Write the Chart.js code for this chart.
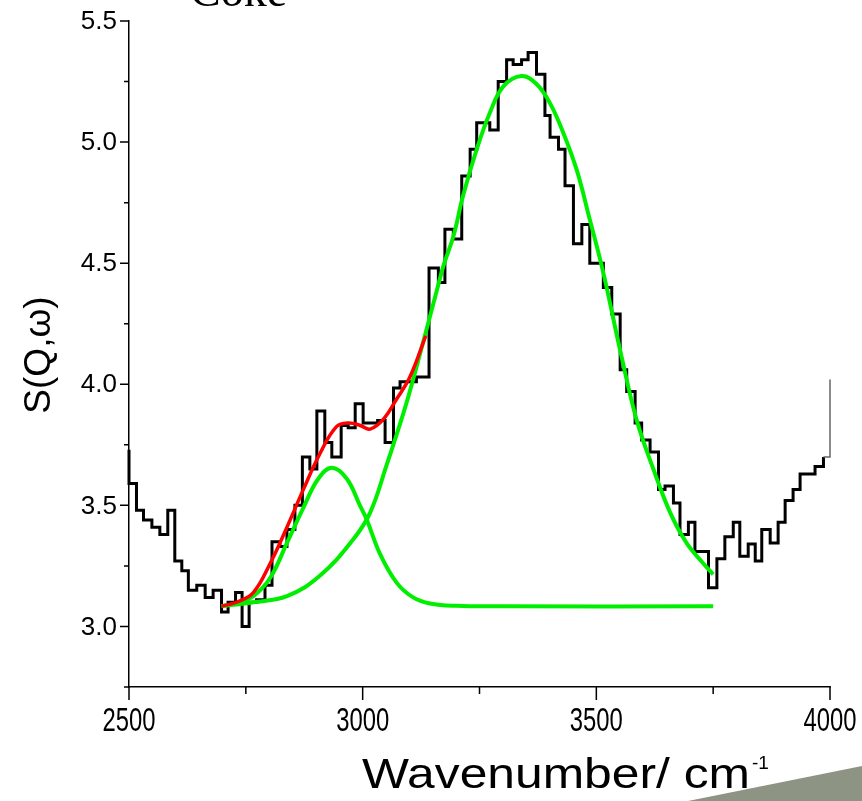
<!DOCTYPE html>
<html>
<head>
<meta charset="utf-8">
<script src="https://cdn.jsdelivr.net/npm/chart.js@4.4.1/dist/chart.umd.min.js"></script>
<style>
  html, body { margin: 0; padding: 0; background: #fff; }
  #wrap { position: relative; width: 862px; height: 801px; }
</style>
</head>
<body>
<div id="wrap"><canvas id="chart"></canvas></div>
<script>
// Measured spectrum, drawn as a histogram: each value holds until the next wavenumber.
const stepWavenumber = [
  2500, 2500, 2516, 2531, 2549, 2566, 2583, 2598, 2613, 2627,
  2645, 2663, 2680, 2698, 2712, 2728, 2742, 2757, 2773, 2791,
  2806, 2823, 2838, 2855, 2871, 2887, 2902, 2919, 2934, 2954,
  2969, 2984, 3001, 3016, 3032, 3048, 3066, 3080, 3098, 3115,
  3142, 3162, 3176, 3194, 3212, 3230, 3244, 3258, 3272, 3290,
  3308, 3322, 3340, 3354, 3372, 3390, 3401, 3419, 3433, 3451,
  3469, 3486, 3501, 3515, 3533, 3551, 3565, 3583, 3597, 3615,
  3633, 3647, 3665, 3679, 3697, 3711, 3725, 3740, 3758, 3775,
  3793, 3807, 3825, 3840, 3854, 3872, 3889, 3904, 3921, 3936,
  3954, 3968, 3986, 4000,
];
const stepIntensity = [
  3.73, 3.59, 3.48, 3.44, 3.41, 3.38, 3.48, 3.27, 3.23, 3.15,
  3.17, 3.12, 3.15, 3.06, 3.10, 3.14, 3.00, 3.10, 3.11, 3.17,
  3.35, 3.33, 3.40, 3.50, 3.70, 3.65, 3.89, 3.76, 3.70, 3.83,
  3.82, 3.92, 3.84, 3.84, 3.85, 3.76, 3.985, 4.01, 4.01, 4.03,
  4.48, 4.42, 4.64, 4.60, 4.86, 4.97, 5.08, 5.08, 5.05, 5.25,
  5.34, 5.32, 5.34, 5.37, 5.28, 5.11, 5.02, 4.97, 4.82, 4.58,
  4.66, 4.50, 4.50, 4.40, 4.29, 4.06, 3.97, 3.84, 3.77, 3.72,
  3.565, 3.58, 3.51, 3.38, 3.43, 3.31, 3.31, 3.16, 3.28, 3.37,
  3.43, 3.29, 3.34, 3.27, 3.40, 3.345, 3.43, 3.52, 3.565, 3.63,
  3.63, 3.66, 3.70, 4.02,
];

// Fitted components (green) and their sum (red).
const peak1Wavenumber = [2698, 2730, 2766, 2802, 2838, 2873, 2905, 2934, 2966, 2994, 3009, 3037, 3073, 3108, 3144, 3200, 3300, 3750];
const peak1Fit =        [3.084, 3.095, 3.125, 3.20, 3.345, 3.49, 3.61, 3.655, 3.61, 3.50, 3.44, 3.30, 3.18, 3.12, 3.095, 3.085, 3.083, 3.083];

const peak2Wavenumber = [2698, 2766, 2838, 2909, 2980, 3016, 3051, 3087, 3108, 3155, 3173, 3194, 3215, 3244, 3272, 3301, 3340, 3372, 3401, 3429, 3458, 3486, 3515, 3551, 3586, 3622, 3658, 3693, 3729, 3750];
const peak2Fit =        [3.084, 3.10, 3.125, 3.21, 3.36, 3.47, 3.665, 3.88, 4.02, 4.36, 4.49, 4.61, 4.78, 4.97, 5.12, 5.23, 5.273, 5.24, 5.16, 5.04, 4.885, 4.68, 4.46, 4.14, 3.854, 3.65, 3.47, 3.345, 3.26, 3.215];

const sumWavenumber = [2698, 2730, 2766, 2802, 2838, 2873, 2909, 2944, 2970, 2995, 3016, 3044, 3073, 3101, 3135];
const sumFit =        [3.084, 3.10, 3.14, 3.26, 3.41, 3.565, 3.715, 3.825, 3.84, 3.83, 3.815, 3.855, 3.94, 4.03, 4.20];

const xMin = 2500, xMax = 4000, xStep = 250, xLabelEvery = 500;
const yMin = 2.75, yMax = 5.5, yStep = 0.25;

const toPoints = (xs, ys) => xs.map((x, i) => ({ x, y: ys[i] }));
const isHalf = (v) => Math.abs(v * 2 - Math.round(v * 2)) < 1e-6;
const lastStep = stepWavenumber.length - 1;

const SANS = "'Liberation Sans', Arial, sans-serif";

// Draw text squeezed or stretched horizontally to a given width (the original
// figure uses a condensed face for tick labels and a wide one for the x title).
function fillFitted(ctx, text, x, y, width) {
  const natural = ctx.measureText(text).width;
  ctx.save();
  ctx.translate(x, y);
  ctx.scale(width / natural, 1);
  ctx.fillText(text, 0, 0);
  ctx.restore();
}

// Axis tick marks (major longer than minor), tick labels, titles and page decorations.
const decorations = {
  id: 'decorations',
  beforeDraw(chart) {
    const { ctx } = chart;
    ctx.save();
    ctx.fillStyle = '#fff';
    ctx.fillRect(0, 0, chart.width, chart.height);
    ctx.restore();
  },
  afterDraw(chart) {
    const { ctx, chartArea, scales } = chart;
    ctx.save();
    ctx.strokeStyle = '#000';
    ctx.fillStyle = '#000';
    ctx.lineWidth = 1.5;
    ctx.beginPath();
    scales.x.ticks.forEach((t) => {
      const px = scales.x.getPixelForValue(t.value);
      const len = t.value % xLabelEvery === 0 ? 13 : 7;
      ctx.moveTo(px, chartArea.bottom);
      ctx.lineTo(px, chartArea.bottom + len);
    });
    scales.y.ticks.forEach((t) => {
      const py = scales.y.getPixelForValue(t.value);
      ctx.moveTo(chartArea.left, py);
      ctx.lineTo(chartArea.left - (isHalf(t.value) ? 9 : 5), py);
    });
    ctx.stroke();

    // tick labels
    ctx.font = `34px ${SANS}`;
    ctx.textAlign = 'center';
    ctx.textBaseline = 'middle';
    scales.x.ticks.forEach((t) => {
      if (t.value % xLabelEvery !== 0) return;
      fillFitted(ctx, String(t.value), scales.x.getPixelForValue(t.value), 722, 53);
    });
    ctx.font = `26px ${SANS}`;
    ctx.textAlign = 'right';
    scales.y.ticks.forEach((t) => {
      if (!isHalf(t.value) || t.value < 3) return;
      ctx.fillText(t.value.toFixed(1), 117, scales.y.getPixelForValue(t.value) + 1);
    });

    // y title, rotated
    ctx.save();
    ctx.translate(40, 355);
    ctx.rotate(-Math.PI / 2);
    ctx.font = `37px ${SANS}`;
    ctx.textAlign = 'center';
    ctx.textBaseline = 'middle';
    ctx.fillText('S(Q,\u03c9)', 0, 0);
    ctx.restore();

    // x title with superscript
    ctx.font = `42px ${SANS}`;
    ctx.textAlign = 'left';
    ctx.textBaseline = 'alphabetic';
    fillFitted(ctx, 'Wavenumber/ cm', 362, 788, 388);
    ctx.font = `19px ${SANS}`;
    ctx.fillText('-1', 752, 769);

    // cropped panel label at the top edge
    ctx.font = `46px 'Liberation Serif', 'Times New Roman', serif`;
    ctx.fillText('Coke', 190, 6);

    // slide decoration, bottom right
    ctx.fillStyle = '#8e9484';
    ctx.beginPath();
    ctx.moveTo(688, 801);
    ctx.lineTo(862, 766);
    ctx.lineTo(862, 801);
    ctx.closePath();
    ctx.fill();
    ctx.restore();
  },
};

new Chart(document.getElementById('chart').getContext('2d'), {
  type: 'line',
  data: {
    datasets: [
      {
        label: 'Sum',
        data: toPoints(sumWavenumber, sumFit),
        borderColor: '#ff0000',
        borderWidth: 3.5,
        tension: 0.4,
        pointRadius: 0,
        fill: false,
        order: 0,
      },
      {
        label: 'Peak 1',
        data: toPoints(peak1Wavenumber, peak1Fit),
        borderColor: '#00ee00',
        borderWidth: 4,
        tension: 0.4,
        pointRadius: 0,
        fill: false,
        order: 1,
      },
      {
        label: 'Peak 2',
        data: toPoints(peak2Wavenumber, peak2Fit),
        borderColor: '#00ee00',
        borderWidth: 4,
        tension: 0.4,
        pointRadius: 0,
        fill: false,
        order: 2,
      },
      {
        label: 'Data',
        data: toPoints(stepWavenumber, stepIntensity),
        borderColor: '#000',
        borderWidth: 3,
        stepped: true,
        pointRadius: 0,
        fill: false,
        clip: false,
        order: 3,
        segment: {
          borderColor: (c) => (c.p1DataIndex === lastStep ? '#666' : undefined),
          borderWidth: (c) => (c.p1DataIndex === lastStep ? 1.5 : undefined),
        },
      },
    ],
  },
  options: {
    responsive: true,
    maintainAspectRatio: false,
    animation: false,
    devicePixelRatio: 1,
    layout: { padding: { top: 21, right: 32, left: 0, bottom: 0 } },
    scales: {
      x: {
        type: 'linear',
        min: xMin,
        max: xMax,
        border: { color: '#000', width: 1.5 },
        grid: { display: false, drawTicks: false },
        ticks: { stepSize: xStep, autoSkip: false, display: false },
        afterFit: (s) => { s.height = 114; },
      },
      y: {
        min: yMin,
        max: yMax,
        border: { color: '#000', width: 1.5 },
        grid: { display: false, drawTicks: false },
        ticks: { stepSize: yStep, autoSkip: false, display: false },
        afterFit: (s) => { s.width = 129; },
      },
    },
    plugins: {
      legend: { display: false },
      tooltip: { enabled: false },
    },
  },
  plugins: [decorations],
});
</script>
</body>
</html>
